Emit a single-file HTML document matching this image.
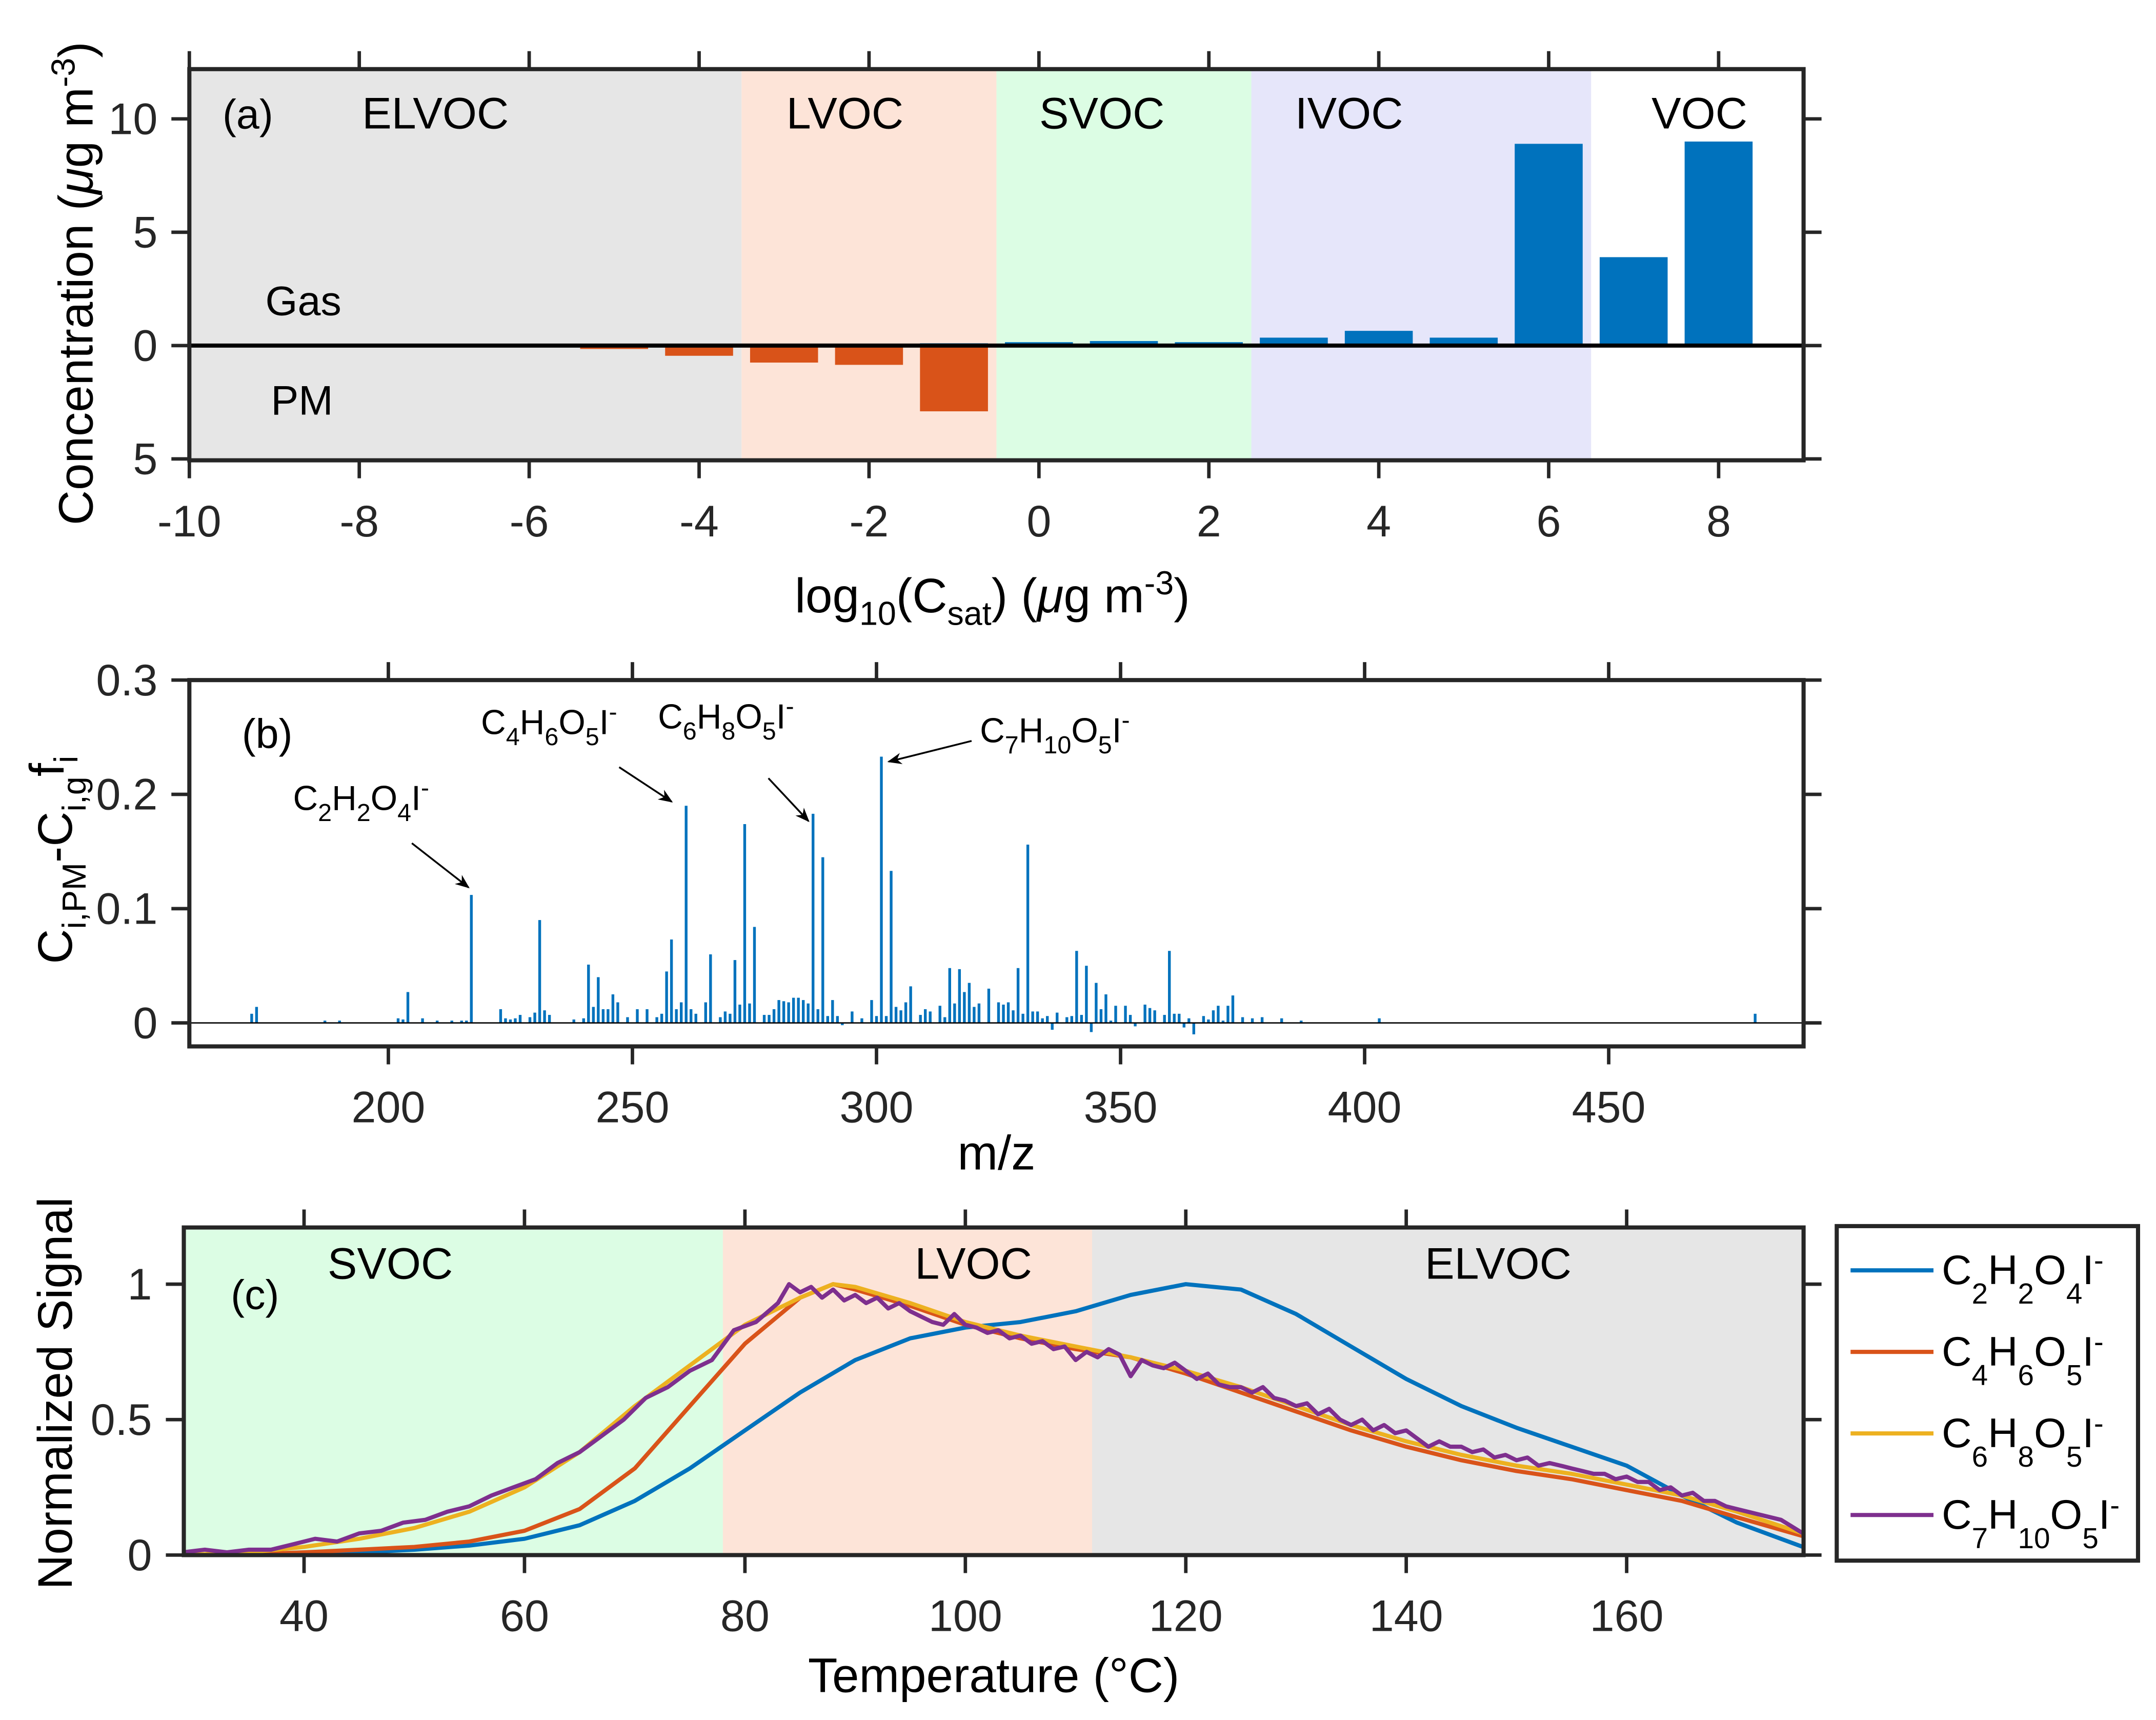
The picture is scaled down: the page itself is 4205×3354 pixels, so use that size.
<!DOCTYPE html>
<html><head><meta charset="utf-8"><style>
html,body{margin:0;padding:0;background:#fff;}
svg{display:block;font-family:"Liberation Sans",Arial,sans-serif;}
</style></head><body>
<svg id="fig" xmlns="http://www.w3.org/2000/svg" width="4205" height="3354" viewBox="0 0 1560 1244.3">
<rect x="0" y="0" width="1560" height="1244.3" fill="#fff"/>
<g id="pa"></g>
<g id="pb"></g>
<g id="pc"></g>
</svg>
<script>
// ---------- Panel (a) data ----------
const aGasBins = [-1,0,1,2,3,4,5,6,7,8];
const aGasVals = [0.1,0.15,0.2,0.15,0.35,0.65,0.35,8.9,3.9,9.0];
const aPmBins = [-5,-4,-3,-2,-1];
const aPmVals = [0.15,0.45,0.75,0.85,2.9];
const aXTicks = [-10,-8,-6,-4,-2,0,2,4,6,8];
const aYTicks = [-5,0,5,10];
const aYTickLabels = ['5','0','5','10'];
const aBands = [[-10,-3.5,'#e6e6e6','ELVOC'],[-3.5,-0.5,'#fde4d8','LVOC'],[-0.5,2.5,'#dcfde4','SVOC'],[2.5,6.5,'#e6e6fa','IVOC'],[6.5,9,'#ffffff','VOC']];

// ---------- Panel (b) data ----------
const bMz = [172,173,187,190,202,203,204,207,210,213,215,216,217,223,224,225,226,227,229,230,231,232,233,238,240,241,242,243,244,245,246,247,249,251,253,255,256,257,258,259,260,261,262,263,265,266,268,269,270,271,272,273,274,275,277,278,279,280,281,282,283,284,285,286,287,288,289,290,291,292,293,295,297,299,300,301,302,303,304,305,306,307,309,310,311,313,314,315,316,317,318,319,320,321,323,325,326,327,328,329,330,331,332,333,334,335,336,337,339,340,341,342,343,344,345,346,347,348,349,351,352,353,355,356,357,359,360,361,362,363,364,365,367,368,369,370,371,372,373,375,377,379,383,387,403,480];
const bVals = [0.008,0.014,0.002,0.002,0.004,0.003,0.027,0.004,0.002,0.002,0.002,0.002,0.112,0.012,0.004,0.003,0.004,0.007,0.005,0.009,0.09,0.011,0.007,0.003,0.004,0.051,0.014,0.04,0.012,0.012,0.025,0.018,0.005,0.012,0.012,0.005,0.008,0.045,0.073,0.012,0.018,0.19,0.012,0.008,0.018,0.06,0.005,0.01,0.008,0.055,0.016,0.174,0.017,0.084,0.007,0.007,0.012,0.02,0.019,0.018,0.022,0.022,0.02,0.017,0.183,0.012,0.145,0.006,0.02,0.006,-0.002,0.01,0.004,0.02,0.006,0.233,0.006,0.133,0.014,0.011,0.018,0.032,0.007,0.012,0.01,0.015,0.005,0.048,0.017,0.047,0.027,0.035,0.014,0.017,0.03,0.018,0.016,0.018,0.011,0.048,0.008,0.156,0.01,0.01,0.004,0.006,-0.006,0.009,0.005,0.006,0.063,0.007,0.05,-0.008,0.035,0.012,0.025,0.002,0.015,0.015,0.007,-0.003,0.016,0.013,0.011,0.007,0.063,0.008,0.008,-0.004,0.004,-0.01,0.006,0.003,0.011,0.015,0.002,0.015,0.024,0.005,0.004,0.005,0.004,0.002,0.004,0.008];
const bXTicks = [200,250,300,350,400,450];
const bYTicks = [0,0.1,0.2,0.3];
const bYTickLabels = ['0','0.1','0.2','0.3'];

// ---------- Panel (c) data ----------
const cBlueT = [29,35,40,45,50,55,60,65,70,75,80,85,90,95,100,105,110,115,120,125,130,135,140,145,150,155,160,165,170,176];
const cBlueV = [0,0.002,0.005,0.01,0.02,0.035,0.06,0.11,0.2,0.32,0.46,0.6,0.72,0.8,0.84,0.86,0.9,0.96,1.0,0.98,0.89,0.77,0.65,0.55,0.47,0.4,0.33,0.22,0.12,0.03];
const cOrangeT = [29,35,40,45,50,55,60,65,70,75,80,85,88,90,95,100,105,110,115,120,125,130,135,140,145,150,155,160,165,170,176];
const cOrangeV = [0,0.003,0.01,0.02,0.03,0.05,0.09,0.17,0.32,0.55,0.78,0.95,1.0,0.98,0.92,0.85,0.8,0.76,0.73,0.67,0.6,0.53,0.46,0.4,0.35,0.31,0.28,0.24,0.2,0.14,0.07];
const cYellowT = [29,35,40,45,50,55,60,65,70,75,80,85,88,90,95,100,105,110,115,120,125,130,135,140,145,150,155,160,165,170,176];
const cYellowV = [0,0.01,0.03,0.06,0.1,0.16,0.25,0.38,0.55,0.7,0.85,0.95,1.0,0.99,0.93,0.86,0.81,0.77,0.73,0.68,0.62,0.55,0.48,0.42,0.37,0.33,0.3,0.26,0.22,0.16,0.08];
const cPurpleT = [29,31,33,35,37,39,41,43,45,47,49,51,53,55,57,59,61,63,65,67,69,71,73,75,77,79,81,83,84,85,86,87,88,89,90,91,92,93,94,95,96,97,98,99,100,101,102,103,104,105,106,107,108,109,110,111,112,113,114,115,116,117,118,119,120,121,122,123,124,125,126,127,128,129,130,131,132,133,134,135,136,137,138,139,140,141,142,143,144,145,146,147,148,149,150,151,152,153,154,155,156,157,158,159,160,161,162,163,164,165,166,167,168,169,170,172,174,176];
const cPurpleV = [0.01,0.02,0.01,0.02,0.02,0.04,0.06,0.05,0.08,0.09,0.12,0.13,0.16,0.18,0.22,0.25,0.28,0.34,0.38,0.44,0.5,0.58,0.62,0.68,0.72,0.83,0.86,0.93,1.0,0.97,0.99,0.95,0.98,0.94,0.96,0.93,0.95,0.91,0.93,0.9,0.88,0.86,0.85,0.89,0.85,0.84,0.82,0.83,0.8,0.81,0.78,0.79,0.76,0.77,0.72,0.75,0.73,0.76,0.74,0.66,0.72,0.7,0.69,0.71,0.68,0.65,0.67,0.63,0.62,0.62,0.6,0.62,0.58,0.57,0.55,0.56,0.52,0.54,0.5,0.48,0.5,0.46,0.48,0.45,0.46,0.43,0.4,0.42,0.4,0.4,0.38,0.39,0.36,0.37,0.35,0.36,0.33,0.34,0.33,0.32,0.31,0.3,0.3,0.28,0.29,0.27,0.27,0.24,0.25,0.22,0.23,0.2,0.2,0.18,0.17,0.15,0.13,0.08];
const cXTicks = [40,60,80,100,120,140,160];
const cYTicks = [0,0.5,1];
const cYTickLabels = ['0','0.5','1'];
const cBands = [[29,78,'#dcfde4','SVOC'],[78,111.5,'#fde4d8','LVOC'],[111.5,176,'#e6e6e6','ELVOC']];

const NS='http://www.w3.org/2000/svg';
function mk(parent,tag,attrs){const e=document.createElementNS(NS,tag);for(const k in attrs)e.setAttribute(k,attrs[k]);parent.appendChild(e);return e;}
function scale(d0,d1,r0,r1){return v=>r0+(v-d0)*(r1-r0)/(d1-d0);}
function frame(g,L,T,R,B,xs,ys,xt,yt,ytl){
  for(const t of xt){const x=xs(t);
    let l=mk(g,'line',{x1:x,x2:x,y1:B,y2:B+13,stroke:'#262626','stroke-width':2.5});
    
    l=mk(g,'line',{x1:x,x2:x,y1:T,y2:T-13,stroke:'#262626','stroke-width':2.5});
    
    const tx=mk(g,'text',{x:x,y:B+55,'font-size':32,'text-anchor':'middle',fill:'#262626'});tx.textContent=String(t);
    }
  yt.forEach((t,i)=>{const y=ys(t);
    let l=mk(g,'line',{x1:L,x2:L-13,y1:y,y2:y,stroke:'#262626','stroke-width':2.5});
    
    l=mk(g,'line',{x1:R,x2:R+13,y1:y,y2:y,stroke:'#262626','stroke-width':2.5});
    
    const tx=mk(g,'text',{x:L-23,y:y+11,'font-size':32,'text-anchor':'end',fill:'#262626'});tx.textContent=ytl[i];
    });
  const r=mk(g,'rect',{x:L,y:T,width:R-L,height:B-T,fill:'none',stroke:'#262626','stroke-width':3});
  
}
function txt(g,x,y,s,size,name,anchor){const t=mk(g,'text',{x:x,y:y,'font-size':size,'text-anchor':anchor||'start',fill:'#000'});t.innerHTML=s;return t;}

// ---- Panel a ----
(function(){
  const g=document.getElementById('pa');const L=137,R=1305,T=50,B=333;
  const xs=scale(-10,9,L,R), ys=scale(0,10,250,86);
  for(const b of aBands){const r=mk(g,'rect',{x:xs(b[0]),y:T,width:xs(b[1])-xs(b[0]),height:B-T,fill:b[2]});
    }
  const lp={ELVOC:262,LVOC:569,SVOC:752,IVOC:937,VOC:1195};
  for(const b of aBands){txt(g,lp[b[3]],93,b[3],32,'label-'+b[3].toLowerCase());}
  aGasBins.forEach((b,i)=>{const r=mk(g,'rect',{x:xs(b-0.4),y:ys(aGasVals[i]),width:xs(0.8)-xs(0),height:ys(0)-ys(aGasVals[i]),fill:'#0072BD'});
    });
  aPmBins.forEach((b,i)=>{const r=mk(g,'rect',{x:xs(b-0.4),y:ys(0),width:xs(0.8)-xs(0),height:ys(-aPmVals[i])-ys(0),fill:'#D95319'});
    });
  const z=mk(g,'line',{x1:L,x2:R,y1:ys(0),y2:ys(0),stroke:'#000','stroke-width':3});
  frame(g,L,T,R,B,xs,ys,aXTicks,aYTicks,aYTickLabels);
  txt(g,161,93,'(a)',30,'panel-label-a');
  txt(g,192,228,'Gas',30,'gas-label');
  txt(g,196,300,'PM',30,'pm-label');
  txt(g,718,443,'log<tspan dy="9" font-size="24">10</tspan><tspan dy="-9">(C</tspan><tspan dy="9" font-size="24">sat</tspan><tspan dy="-9">) (</tspan><tspan font-style="italic">μ</tspan>g m<tspan dy="-13" font-size="24">-3</tspan><tspan dy="13">)</tspan>',35,'x-axis-title-a','middle');
  const yt=txt(g,0,0,'Concentration (<tspan font-style="italic">μ</tspan>g m<tspan dy="-13" font-size="24">-3</tspan><tspan dy="13">)</tspan>',35,'y-axis-title-a','middle');
  yt.setAttribute('transform','translate(67,205) rotate(-90)');
})();

// ---- Panel b ----
(function(){
  const g=document.getElementById('pb');const L=137,R=1305,T=492,B=757;
  const xs=scale(200,450,281,1164), ys=scale(0,0.3,740,492);
  bMz.forEach((m,i)=>{const l=mk(g,'line',{x1:xs(m),x2:xs(m),y1:ys(0),y2:ys(bVals[i]),stroke:'#0072BD','stroke-width':2});
    });
  const z=mk(g,'line',{x1:L,x2:R,y1:ys(0),y2:ys(0),stroke:'#000','stroke-width':1});
  frame(g,L,T,R,B,xs,ys,bXTicks,bYTicks,bYTickLabels);
  txt(g,175,541,'(b)',30,'panel-label-b');
  const defs=mk(g,'defs',{});const mkr=mk(defs,'marker',{id:'ah',viewBox:'0 0 10 10',refX:9,refY:5,markerWidth:8,markerHeight:8,orient:'auto-start-reverse'});
  mk(mkr,'path',{d:'M0,1 L10,5 L0,9 L3,5 z',fill:'#000'});
  function ann(x,y,s,ax1,ay1,ax2,ay2,name){
    txt(g,x,y,s,25,name);
    const a=mk(g,'line',{x1:ax1,y1:ay1,x2:ax2,y2:ay2,stroke:'#000','stroke-width':1.3,'marker-end':'url(#ah)'});
    }
  const f=(c1,h,o)=>'C<tspan dy="8" font-size="18">'+c1+'</tspan><tspan dy="-8">H</tspan><tspan dy="8" font-size="18">'+h+'</tspan><tspan dy="-8">O</tspan><tspan dy="8" font-size="18">'+o+'</tspan><tspan dy="-8">I</tspan><tspan dy="-10" font-size="18">-</tspan>';
  ann(212,586,f(2,2,4),298,610,339,642,'annotation-c2h2o4i');
  ann(348,531,f(4,6,5),448,555,486,580,'annotation-c4h6o5i');
  ann(476,527,f(6,8,5),556,563,585,594,'annotation-c6h8o5i');
  ann(709,537,f(7,10,5),703,536,643,551,'annotation-c7h10o5i');
  txt(g,721,846,'m/z',35,'x-axis-title-b','middle');
  const yt=txt(g,0,0,'C<tspan dy="10" font-size="24">i,PM</tspan><tspan dy="-10">-C</tspan><tspan dy="10" font-size="24">i,g</tspan><tspan dy="-16">f</tspan><tspan dy="10" font-size="24">i</tspan>',35,'y-axis-title-b','middle');
  yt.setAttribute('transform','translate(52,622) rotate(-90)');
})();

// ---- Panel c ----
(function(){
  const g=document.getElementById('pc');const L=133,R=1305,T=888,B=1125;
  const xs=scale(40,160,220,1177), ys=scale(0,1,1125,929);
  for(const b of cBands){const r=mk(g,'rect',{x:xs(b[0]),y:T,width:xs(b[1])-xs(b[0]),height:B-T,fill:b[2]});
    }
  txt(g,237,925,'SVOC',32,'label-svoc');txt(g,662,925,'LVOC',32,'label-lvoc');txt(g,1031,925,'ELVOC',32,'label-elvoc');
  const series=[[cBlueT,cBlueV,'#0072BD','curve-c2h2o4i'],[cOrangeT,cOrangeV,'#D95319','curve-c4h6o5i'],[cYellowT,cYellowV,'#EDB120','curve-c6h8o5i'],[cPurpleT,cPurpleV,'#7E2F8E','curve-c7h10o5i']];
  const clip=mk(g,'clipPath',{id:'cc'});mk(clip,'rect',{x:L,y:T,width:R-L,height:B-T});
  for(const s of series){const d=s[0].map((t,i)=>(i?'L':'M')+xs(t).toFixed(1)+','+ys(s[1][i]).toFixed(1)).join(' ');
    const p=mk(g,'path',{d:d,fill:'none',stroke:s[2],'stroke-width':3,'stroke-linejoin':'round','clip-path':'url(#cc)'});
    }
  frame(g,L,T,R,B,xs,ys,cXTicks,cYTicks,cYTickLabels);
  txt(g,167,947,'(c)',30,'panel-label-c');
  txt(g,719,1224,'Temperature (°C)',35,'x-axis-title-c','middle');
  const yt=txt(g,0,0,'Normalized Signal',35,'y-axis-title-c','middle');
  yt.setAttribute('transform','translate(52,1008) rotate(-90)');
  const lg=mk(g,'g',{});
  mk(lg,'rect',{x:1329,y:887,width:218,height:242,fill:'#fff',stroke:'#262626','stroke-width':3});
  const labs=[[2,2,4],[4,6,5],[6,8,5],[7,10,5]];
  series.forEach((s,i)=>{const y=919+i*59;const e=mk(lg,'g',{});
    mk(e,'line',{x1:1339,x2:1399,y1:y,y2:y,stroke:s[2],'stroke-width':3});
    const t=mk(e,'text',{x:1405,y:y+10,'font-size':30,fill:'#000'});
    const c=labs[i];t.innerHTML='C<tspan dy="14" font-size="21">'+c[0]+'</tspan><tspan dy="-14">H</tspan><tspan dy="14" font-size="21">'+c[1]+'</tspan><tspan dy="-14">O</tspan><tspan dy="14" font-size="21">'+c[2]+'</tspan><tspan dy="-14">I</tspan><tspan dy="-10" font-size="21">-</tspan>';});
})();
</script>
</body></html>
